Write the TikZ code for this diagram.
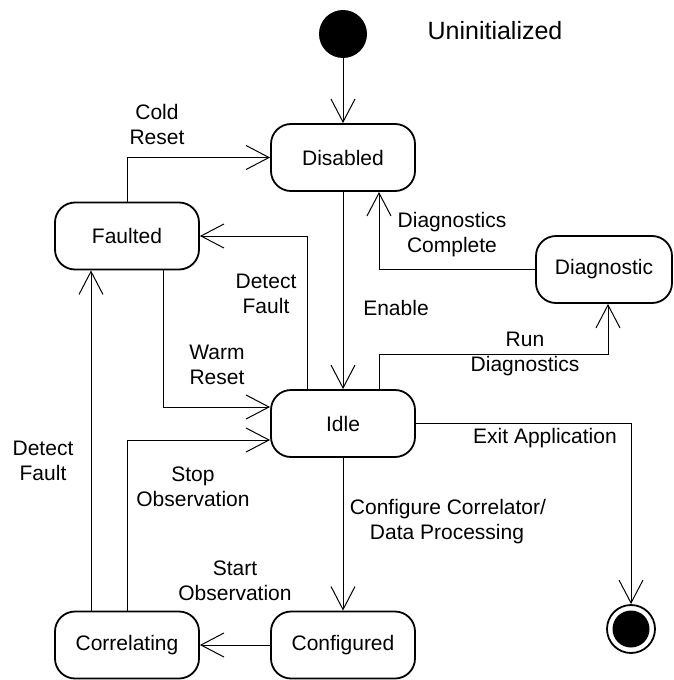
\documentclass[tikz,border=0pt]{standalone}
\usepackage{fontspec}
\setmainfont{Liberation Sans}
\usetikzlibrary{arrows.meta}

\begin{document}
\begin{tikzpicture}[x=1pt, y=-1pt,
  every node/.style={font=\fontsize{21}{25}\selectfont},
  state/.style={draw, line width=1.8pt, rounded corners=20pt, rectangle,
    minimum width=144pt, minimum height=67pt, inner sep=0pt},
  edgelabel/.style={align=center, inner sep=0pt},
  trans/.style={line width=1pt, -{Straight Barb[length=23pt, width=24pt, line width=1pt]}},
]
\useasboundingbox (0,0) rectangle (673,680);

% initial and final pseudo-states
\node[circle, fill=black, minimum size=48pt, inner sep=0pt] (init) at (343,34) {};
\node[font=\fontsize{25}{30}\selectfont, anchor=base] (uninit) at (495,39) {Uninitialized};
\node[circle, draw, line width=1.8pt, minimum size=48pt, inner sep=0pt] (final) at (631,629) {};
\node[circle, fill=black, minimum size=37pt, inner sep=0pt] (finaldot) at (631,629) {};

% states
\node[state] (dis)  at (343,157.5) {Disabled};
\node[state] (fau)  at (127,236) {Faulted};
\node[state, minimum width=136pt] (diag) at (604,269.5) {Diagnostic};
\node[state] (idle) at (343,423.5) {Idle};
\node[state] (corr) at (127,645) {Correlating};
\node[state] (conf) at (343,645) {Configured};

% transitions
\draw[trans] (init) -- (dis);
\draw[trans] (fau.north) |- (dis.west);
\draw[trans] (dis) -- (idle);
\draw[trans] (diag.west) -| ([xshift=36pt]dis.south);
\draw[trans] ([xshift=-36pt]idle.north) |- (fau.east);
\draw[trans] ([xshift=36pt]fau.south) |- ([yshift=16.5pt]idle.west);
\coordinate (rdturn) at (608,354);
\draw[trans] ([xshift=36pt]idle.north) |- (rdturn) -- (rdturn |- diag.south);
\draw[trans] (idle.east) -| (final.north);
\draw[trans] (idle) -- (conf);
\draw[trans] (conf) -- (corr);
\draw[trans] (corr.north) |- ([yshift=-16.5pt]idle.west);
\draw[trans] ([xshift=-36pt]corr.north) -- ([xshift=-36pt]fau.south);

% transition labels
\node[edgelabel] (lcold)   at (157,124) {Cold\\Reset};
\node[edgelabel] (lenable) at (396,308) {Enable};
\node[edgelabel] (ldiagc)  at (452,235) {Diagnostics\\Complete};
\node[edgelabel] (ldet1)   at (266,294) {Detect\\Fault};
\node[edgelabel] (lwarm)   at (217,365) {Warm\\Reset};
\node[edgelabel] (lrun)    at (525,354) {Run\\Diagnostics};
\node[edgelabel] (lexit)   at (545,438) {Exit Application};
\node[edgelabel, align=left] (lconf) at (448,522) {Configure Correlator/\\\hspace*{20pt}Data Processing};
\node[edgelabel] (lstart)  at (235,581) {Start\\Observation};
\node[edgelabel] (lstop)   at (193,487) {Stop\\Observation};
\node[edgelabel] (ldet2)   at (43,461) {Detect\\Fault};
\end{tikzpicture}
\end{document}
